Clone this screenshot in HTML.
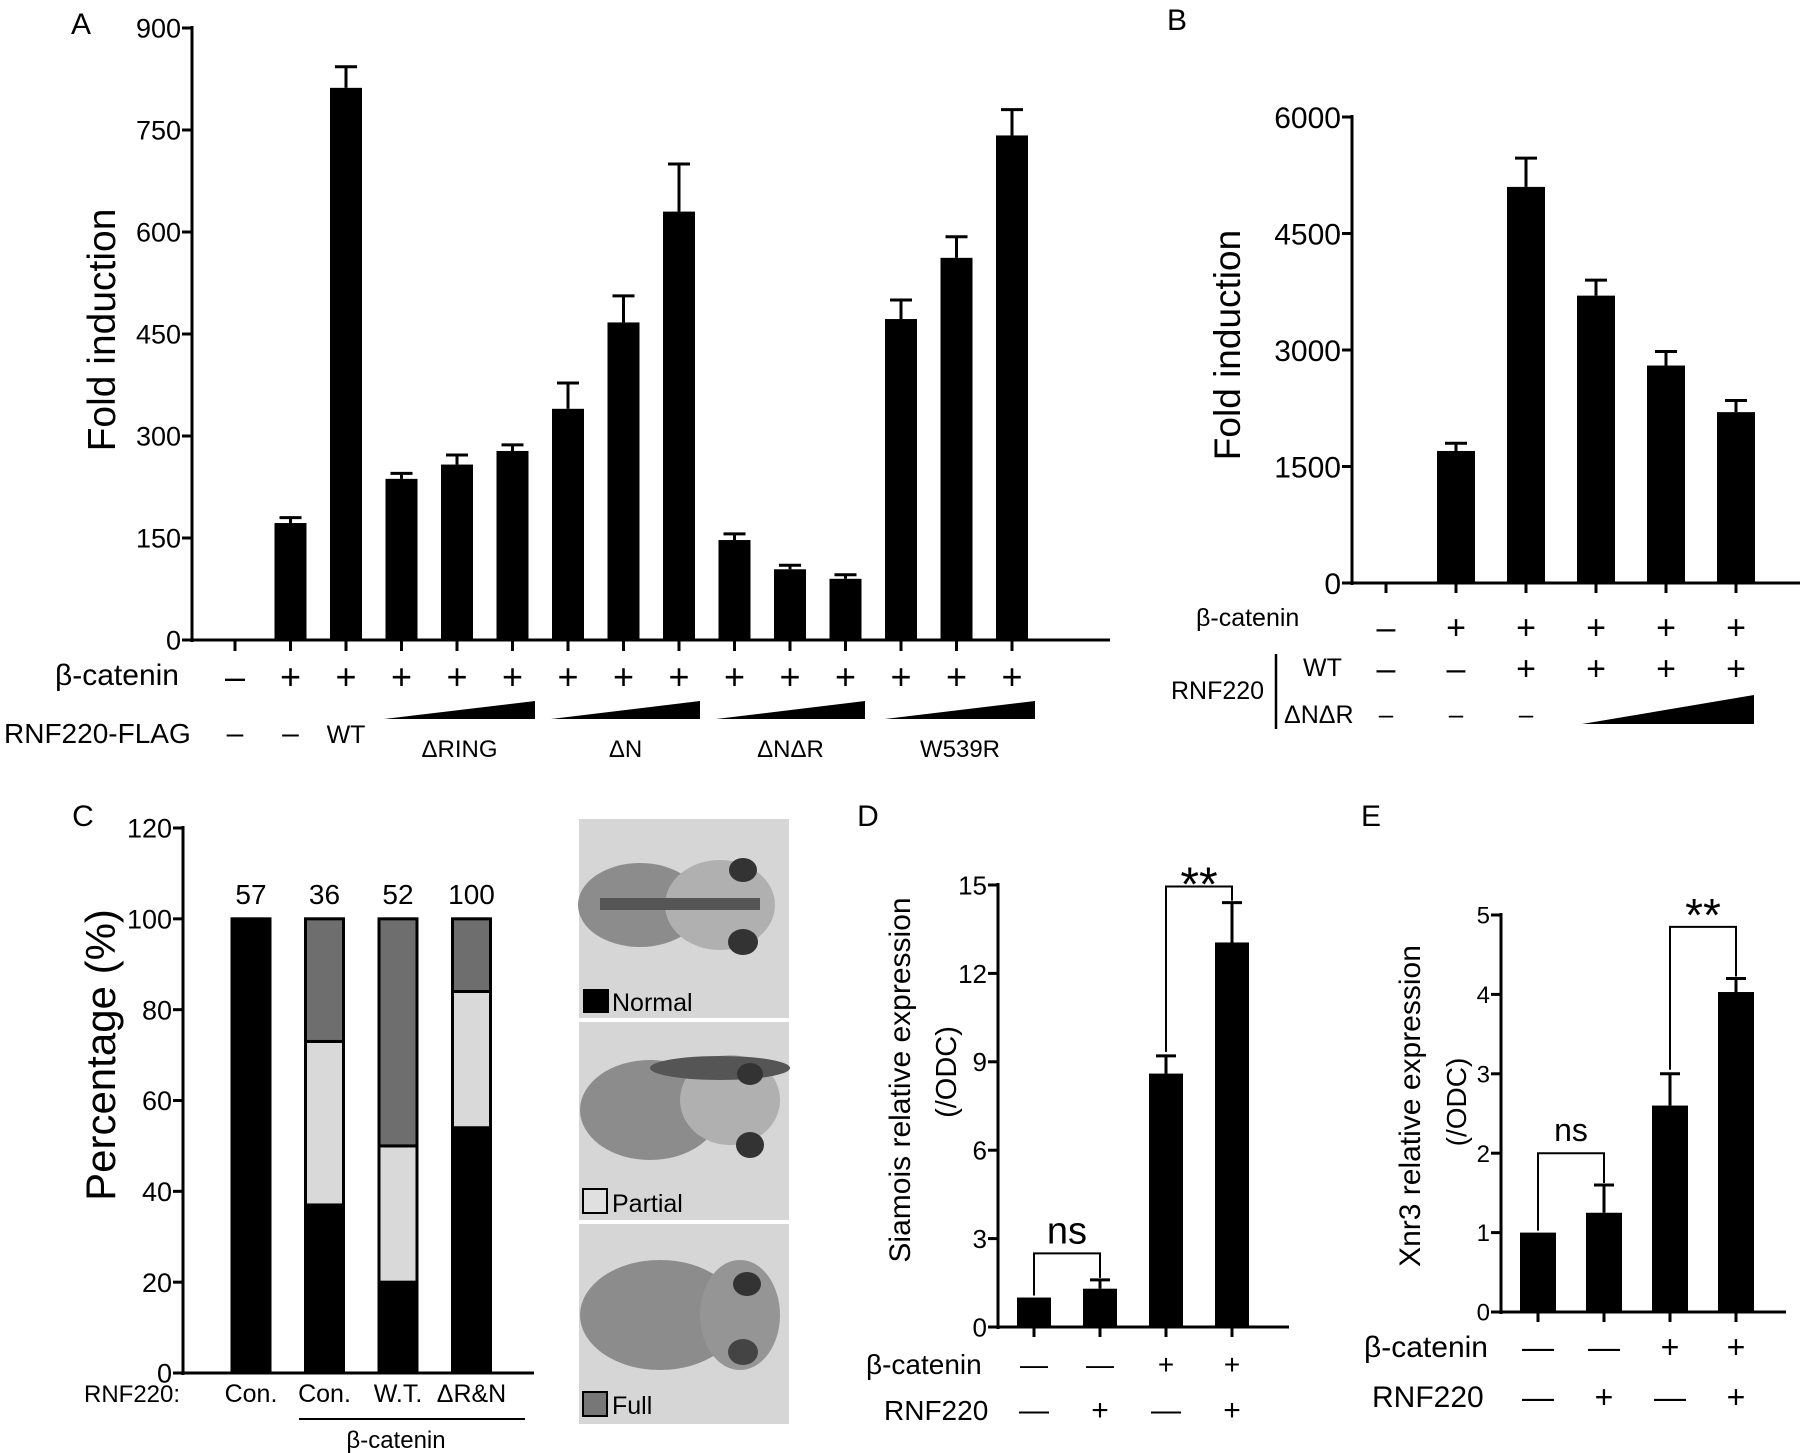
<!DOCTYPE html>
<html><head><meta charset="utf-8"><style>
html,body{margin:0;padding:0;background:#fff;}
svg{display:block;font-family:"Liberation Sans",Arial,sans-serif;}
</style></head><body>
<svg id="fig" width="1800" height="1453" viewBox="0 0 1800 1453" xmlns="http://www.w3.org/2000/svg">
<g id="photos">
  <g>
    <rect x="579" y="819" width="210" height="199" fill="#d6d6d6"/>
    <ellipse cx="640" cy="905" rx="62" ry="42" fill="#8c8c8c"/>
    <ellipse cx="720" cy="905" rx="55" ry="45" fill="#b0b0b0"/>
    <rect x="600" y="898" width="160" height="12" fill="#555"/>
    <ellipse cx="743" cy="870" rx="14" ry="12" fill="#333"/>
    <ellipse cx="743" cy="942" rx="15" ry="13" fill="#333"/>
    <rect x="583" y="989" width="26" height="24" fill="#000"/>
    <text x="612" y="1011" font-size="25">Normal</text>
  </g>
  <g>
    <rect x="579" y="1022" width="210" height="198" fill="#d6d6d6"/>
    <ellipse cx="650" cy="1110" rx="70" ry="50" fill="#8c8c8c"/>
    <ellipse cx="730" cy="1100" rx="50" ry="45" fill="#b0b0b0"/>
    <ellipse cx="720" cy="1068" rx="70" ry="12" fill="#555"/>
    <ellipse cx="750" cy="1074" rx="13" ry="11" fill="#333"/>
    <ellipse cx="750" cy="1145" rx="14" ry="13" fill="#333"/>
    <rect x="583" y="1189" width="24" height="24" fill="#e0e0e0" stroke="#000" stroke-width="2"/>
    <text x="612" y="1212" font-size="25">Partial</text>
  </g>
  <g>
    <rect x="579" y="1224" width="210" height="200" fill="#d6d6d6"/>
    <ellipse cx="660" cy="1315" rx="80" ry="55" fill="#8c8c8c"/>
    <ellipse cx="740" cy="1315" rx="40" ry="55" fill="#959595"/>
    <ellipse cx="747" cy="1284" rx="14" ry="12" fill="#333"/>
    <ellipse cx="743" cy="1352" rx="15" ry="13" fill="#444"/>
    <rect x="583" y="1392" width="24" height="24" fill="#777" stroke="#000" stroke-width="2"/>
    <text x="612" y="1414" font-size="25">Full</text>
  </g>
</g>
</svg>
<script>
const NS="http://www.w3.org/2000/svg";
const svg=document.getElementById('fig');
function mk(tag,attrs,parent,txt){const e=document.createElementNS(NS,tag);for(const k in attrs)e.setAttribute(k,attrs[k]);if(txt!==undefined)e.textContent=txt;(parent||svg).appendChild(e);return e;}

// ---- Panel A data ----
const aValues=[0,172,812,237,258,278,340,467,630,147,104,90,472,562,742];
const aErrTop=[0,180,843,245,272,287,378,506,700,156,110,96,500,593,780];
const aTicks=[0,150,300,450,600,750,900];
const aBeta=['–','+','+','+','+','+','+','+','+','+','+','+','+','+','+'];
// ---- Panel B data ----
const bValues=[0,1700,5100,3700,2800,2200];
const bErrTop=[0,1800,5470,3900,2980,2350];
const bTicks=[0,1500,3000,4500,6000];
const bBeta=['–','+','+','+','+','+'];
const bWT=['–','–','+','+','+','+'];
// ---- Panel C data ----
const cGroups=['Con.','Con.','W.T.','ΔR&N'];
const cCounts=['57','36','52','100'];
const cNormal=[100,37,20,54];
const cPartial=[0,36,30,30];
const cFull=[0,27,50,16];
const cTicks=[0,20,40,60,80,100,120];
// ---- Panel D data ----
const dValues=[1.0,1.3,8.6,13.05];
const dErrTop=[1.0,1.6,9.2,14.4];
const dTicks=[0,3,6,9,12,15];
const dBeta=['—','—','+','+'];
const dRnf=['—','+','—','+'];
// ---- Panel E data ----
const eValues=[1.0,1.25,2.6,4.03];
const eErrTop=[1.0,1.6,3.0,4.2];
const eTicks=[0,1,2,3,4,5];
const eBeta=['—','—','+','+'];
const eRnf=['—','+','—','+'];

function axis(g,o){
  const y=v=>o.y0-(v-o.min)/(o.max-o.min)*(o.y0-o.yT);
  mk('line',{x1:o.x,y1:o.yT-2,x2:o.x,y2:o.y0+2,stroke:'#000','stroke-width':o.sw},g);
  mk('line',{x1:o.x,y1:o.y0,x2:o.xEnd,y2:o.y0,stroke:'#000','stroke-width':o.sw},g);
  o.ticks.forEach(t=>{
    mk('line',{x1:o.x-10,y1:y(t),x2:o.x,y2:y(t),stroke:'#000','stroke-width':o.sw},g);
    const tx=mk('text',{x:o.x-11,y:y(t)+o.fs*0.36,'font-size':o.fs,'text-anchor':'end'},g,String(t));
    
    
  });
  return y;
}
function bars(g,xs,vals,errs,y,w,capW){
  vals.forEach((v,i)=>{
    if(v<=0)return;
    const r=mk('rect',{x:xs[i]-w/2,y:y(v),width:w,height:y(0)-y(v),fill:'#000'},g);
    
    
    if(errs[i]>v){
      mk('line',{x1:xs[i],y1:y(errs[i]),x2:xs[i],y2:y(v),stroke:'#000','stroke-width':3},g);
      mk('line',{x1:xs[i]-capW/2,y1:y(errs[i]),x2:xs[i]+capW/2,y2:y(errs[i]),stroke:'#000','stroke-width':3},g);
    }
  });
}
function ylabel(g,x,y,fs,t,name){const e=mk('text',{x:x,y:y,'font-size':fs,'text-anchor':'middle',transform:`rotate(-90 ${x} ${y})`},g,t);return e;}
function label(g,x,y,fs,t,anchor,name){const e=mk('text',{x:x,y:y,'font-size':fs,'text-anchor':anchor||'middle'},g,t);return e;}

// ===== Panel A =====
const gA=mk('g',{});


const aXs=aValues.map((v,i)=>235+i*55.5);
const yA=axis(gA,{x:192,y0:640,yT:28,xEnd:1110,min:0,max:900,ticks:aTicks,fs:27,sw:3});
aXs.forEach(x=>mk('line',{x1:x,y1:640,x2:x,y2:651,stroke:'#000','stroke-width':3},gA));
bars(gA,aXs,aValues,aErrTop,yA,32,22);
ylabel(gA,115,330,39,'Fold induction','y-axis-title');
label(gA,81,34,30,'A','middle','panel-label');
label(gA,55,685,30,'β-catenin','start','row-label');
aBeta.forEach((s,i)=>label(gA,aXs[i],689,36,s,'middle','sign'));
label(gA,4,743,28,'RNF220-FLAG','start','row-label');
label(gA,aXs[0],743,30,'–','middle','sign');
label(gA,aXs[1],743,30,'–','middle','sign');
label(gA,aXs[2],743,25,'WT','middle','sign');
[[384,535,'ΔRING'],[551,700,'ΔN'],[716,865,'ΔNΔR'],[885,1035,'W539R']].forEach(t=>{
  const p=mk('polygon',{points:`${t[0]},719 ${t[1]},701 ${t[1]},719`,fill:'#000'},gA);
  
  label(gA,(t[0]+t[1])/2,757,24,t[2],'middle','group-label');
});

// ===== Panel B =====
const gB=mk('g',{});


const bXs=bValues.map((v,i)=>1386+i*70);
const yB=axis(gB,{x:1352,y0:583,yT:117,xEnd:1800,min:0,max:6000,ticks:bTicks,fs:30,sw:3});
bXs.forEach(x=>mk('line',{x1:x,y1:583,x2:x,y2:593,stroke:'#000','stroke-width':3},gB));
bars(gB,bXs,bValues,bErrTop,yB,38,22);
ylabel(gB,1240,345,37,'Fold induction','y-axis-title');
label(gB,1177,30,30,'B','middle','panel-label');
label(gB,1196,626,25,'β-catenin','start','row-label');
bBeta.forEach((s,i)=>label(gB,bXs[i],639,34,s,'middle','sign'));
label(gB,1303,676,25,'WT','start','row-label');
bWT.forEach((s,i)=>label(gB,bXs[i],680,34,s,'middle','sign'));
label(gB,1171,699,25,'RNF220','start','row-label');
label(gB,1284,723,25,'ΔNΔR','start','row-label');
mk('line',{x1:1276,y1:654,x2:1276,y2:729,stroke:'#000','stroke-width':2.5},gB);
for(let i=0;i<3;i++)label(gB,bXs[i],723,26,'–','middle','sign');
const bt=mk('polygon',{points:'1582,724 1754,695 1754,724',fill:'#000'},gB);


// ===== Panel C =====
const gC=mk('g',{});


const cXs=cGroups.map((v,i)=>251+i*73.5);
const yC=axis(gC,{x:183,y0:1373,yT:828,xEnd:534,min:0,max:120,ticks:cTicks,fs:27,sw:3});
cGroups.forEach((g,i)=>{
  const segs=[[0,cNormal[i],'#000'],[cNormal[i],cNormal[i]+cPartial[i],'#d9d9d9'],[cNormal[i]+cPartial[i],cNormal[i]+cPartial[i]+cFull[i],'#6e6e6e']];
  segs.forEach(s=>{if(s[1]>s[0]){const r=mk('rect',{x:cXs[i]-19,y:yC(s[1]),width:38,height:yC(s[0])-yC(s[1]),fill:s[2],stroke:'#000','stroke-width':3},gC);}});
  label(gC,cXs[i],yC(100)-15,28,cCounts[i],'middle','count-label');
  label(gC,cXs[i],1402,25,g,'middle','x-tick-label');
});
ylabel(gC,115,1055,42,'Percentage (%)','y-axis-title');
label(gC,83,826,30,'C','middle','panel-label');
label(gC,84,1402,24,'RNF220:','start','row-label');
mk('line',{x1:299,y1:1419,x2:525,y2:1419,stroke:'#000','stroke-width':2},gC);
label(gC,396,1448,24,'β-catenin','middle','group-label');

// ===== Panel D =====
const gD=mk('g',{});


const dXs=dValues.map((v,i)=>1034+i*66);
const yD=axis(gD,{x:998,y0:1327,yT:885,xEnd:1289,min:0,max:15,ticks:dTicks,fs:26,sw:3});
dXs.forEach(x=>mk('line',{x1:x,y1:1327,x2:x,y2:1337,stroke:'#000','stroke-width':3},gD));
bars(gD,dXs,dValues,dErrTop,yD,34,20);
mk('polyline',{points:`${dXs[0]},${yD(dValues[0])-2} ${dXs[0]},${yD(2.5)} ${dXs[1]},${yD(2.5)} ${dXs[1]},${yD(dErrTop[1])-2}`,fill:'none',stroke:'#000','stroke-width':2},gD);
label(gD,(dXs[0]+dXs[1])/2,yD(2.5)-10,38,'ns','middle','significance-ns');
mk('polyline',{points:`${dXs[2]},${yD(dErrTop[2])-4} ${dXs[2]},${yD(14.95)} ${dXs[3]},${yD(14.95)} ${dXs[3]},${yD(dErrTop[3])-2}`,fill:'none',stroke:'#000','stroke-width':2},gD);
label(gD,(dXs[2]+dXs[3])/2,yD(14.95)+14,48,'**','middle','significance-stars');
ylabel(gD,910,1080,30,'Siamois relative expression','y-axis-title');
ylabel(gD,956,1072,29,'(/ODC)','y-axis-unit');
label(gD,868,826,30,'D','middle','panel-label');
label(gD,866,1374,28,'β-catenin','start','row-label');
dBeta.forEach((s,i)=>label(gD,dXs[i],1374,28,s,'middle','sign'));
label(gD,884,1420,28,'RNF220','start','row-label');
dRnf.forEach((s,i)=>label(gD,dXs[i],1420,30,s,'middle','sign'));

// ===== Panel E =====
const gE=mk('g',{});


const eXs=eValues.map((v,i)=>1538+i*66);
const yE=axis(gE,{x:1501,y0:1312,yT:915,xEnd:1786,min:0,max:5,ticks:eTicks,fs:24,sw:3});
eXs.forEach(x=>mk('line',{x1:x,y1:1312,x2:x,y2:1322,stroke:'#000','stroke-width':3},gE));
bars(gE,eXs,eValues,eErrTop,yE,36,20);
mk('polyline',{points:`${eXs[0]},${yE(eValues[0])-2} ${eXs[0]},${yE(2.0)} ${eXs[1]},${yE(2.0)} ${eXs[1]},${yE(eErrTop[1])-2}`,fill:'none',stroke:'#000','stroke-width':2},gE);
label(gE,(eXs[0]+eXs[1])/2,yE(2.0)-12,32,'ns','middle','significance-ns');
mk('polyline',{points:`${eXs[2]},${yE(eErrTop[2])-4} ${eXs[2]},${yE(4.85)} ${eXs[3]},${yE(4.85)} ${eXs[3]},${yE(eErrTop[3])-2}`,fill:'none',stroke:'#000','stroke-width':2},gE);
label(gE,(eXs[2]+eXs[3])/2,yE(4.85)+4,46,'**','middle','significance-stars');
ylabel(gE,1420,1106,30,'Xnr3 relative expression','y-axis-title');
ylabel(gE,1466,1102,28,'(/ODC)','y-axis-unit');
label(gE,1371,826,30,'E','middle','panel-label');
label(gE,1364,1357,30,'β-catenin','start','row-label');
eBeta.forEach((s,i)=>label(gE,eXs[i],1358,32,s,'middle','sign'));
label(gE,1372,1407,30,'RNF220','start','row-label');
eRnf.forEach((s,i)=>label(gE,eXs[i],1408,32,s,'middle','sign'));
</script>
</body></html>
